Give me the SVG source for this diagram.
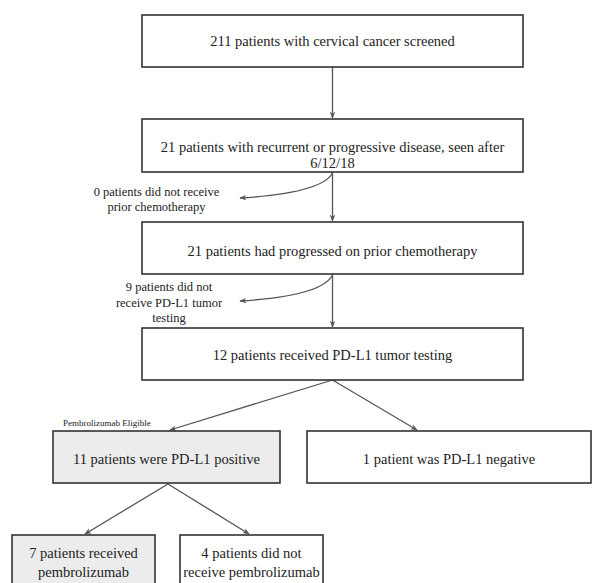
<svg xmlns="http://www.w3.org/2000/svg" width="593" height="583" viewBox="0 0 593 583">
<defs>
<marker id="ah" viewBox="0 0 10 10" refX="9" refY="5" markerWidth="7" markerHeight="7" orient="auto-start-reverse" markerUnits="userSpaceOnUse">
<path d="M0,1 L10,5 L0,9 L3,5 Z" fill="#555"/>
</marker>
<style>
.box{fill:#fff;stroke:#333;stroke-width:1.6}
.gray{fill:#ececec}
text{font-family:'Liberation Serif','DejaVu Serif',serif;fill:#222}
.t{font-size:14.5px;text-anchor:middle}
.s{font-size:12.5px;text-anchor:middle}
.xs{font-size:9px}
.c{fill:none;stroke:#555;stroke-width:1.3;marker-end:url(#ah)}
</style>
</defs>
<rect width="593" height="583" fill="#fff"/>
<g id="connectors">
<path class="c" d="M332.5,67 L332.5,118"/>
<path class="c" d="M332.5,172 L332.5,221"/>
<path class="c" d="M332.5,274 L332.5,327"/>
<path class="c" d="M332.5,173 Q322,193 240,198"/>
<path class="c" d="M332.5,275 Q322,296 240,301"/>
<path class="c" d="M332.5,380 L170,430"/>
<path class="c" d="M332.5,380 L417,430"/>
<path class="c" d="M168,484 L85,534"/>
<path class="c" d="M168,484 L249,534"/>
</g>
<g id="n1"><rect class="box" x="142" y="15" width="381" height="52"/><text class="t" x="332.5" y="46" font-family="Liberation Serif, serif">211 patients with cervical cancer screened</text></g>
<g id="n2"><rect class="box" x="142" y="119" width="381" height="53"/><text class="t" x="332.5" y="152">21 patients with recurrent or progressive disease, seen after</text><text class="t" x="332.5" y="168">6/12/18</text></g>
<g id="e1"><text class="s" x="156.5" y="196">0 patients did not receive</text><text class="s" x="156.5" y="211">prior chemotherapy</text></g>
<g id="n3"><rect class="box" x="142" y="222" width="381" height="52"/><text class="t" x="332.5" y="256">21 patients had progressed on prior chemotherapy</text></g>
<g id="e2"><text class="s" x="169" y="291">9 patients did not</text><text class="s" x="169" y="307">receive PD-L1 tumor</text><text class="s" x="169" y="322">testing</text></g>
<g id="n4"><rect class="box" x="142" y="328" width="381" height="52"/><text class="t" x="332.5" y="360">12 patients received PD-L1 tumor testing</text></g>
<g id="lbl"><text class="xs" x="63" y="426">Pembrolizumab Eligible</text></g>
<g id="n5"><rect class="box gray" x="53" y="431" width="227" height="52"/><text class="t" x="166.5" y="464">11 patients were PD-L1 positive</text></g>
<g id="n6"><rect class="box" x="307" y="431" width="284" height="52"/><text class="t" x="449" y="464">1 patient was PD-L1 negative</text></g>
<g id="n7"><rect class="box gray" x="12" y="535" width="143" height="60"/><text class="t" x="83.5" y="558">7 patients received</text><text class="t" x="83.5" y="577">pembrolizumab</text></g>
<g id="n8"><rect class="box" x="180" y="535" width="143" height="60"/><text class="t" x="251.5" y="558">4 patients did not</text><text class="t" x="251.5" y="577">receive pembrolizumab</text></g>
</svg>
